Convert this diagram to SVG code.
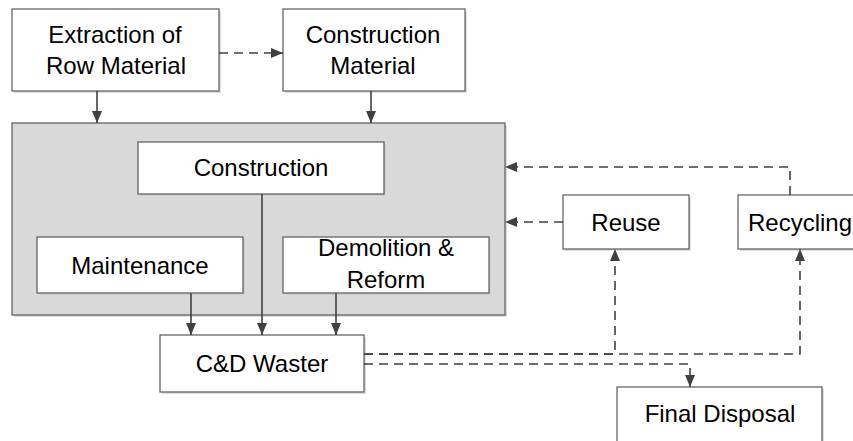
<svg xmlns="http://www.w3.org/2000/svg" width="853" height="441" viewBox="0 0 853 441">
<defs>
<style>
.box{fill:#ffffff;stroke:#595959;stroke-width:1.2}
.shadow{fill:#c8c8c8;opacity:0.6}
.group{fill:#d9d9d9;stroke:#595959;stroke-width:1.2}
.t{font-family:"Liberation Sans",Arial,sans-serif;font-size:24px;fill:#000000;text-anchor:middle}
.solid{fill:none;stroke:#404040;stroke-width:1.6}
.dash{fill:none;stroke:#404040;stroke-width:1.6;stroke-dasharray:9,6}
</style>
<marker id="ah" viewBox="0 0 12 10" refX="12" refY="5" markerWidth="12" markerHeight="10" markerUnits="userSpaceOnUse" orient="auto">
<path d="M0,0 L12,5 L0,10 Z" fill="#404040"/>
</marker>
</defs>
<rect width="853" height="441" fill="#ffffff"/>

<g id="lifecycle">
<rect class="shadow" x="14" y="125" width="493" height="192"/>
<rect class="group" x="12" y="123" width="493" height="192"/>
</g>

<g id="extraction">
<rect class="shadow" x="14" y="11" width="207" height="82"/>
<rect class="box" x="12" y="9" width="207" height="82"/>
<text class="t" x="115" y="43">Extraction of</text>
<text class="t" x="116" y="74">Row Material</text>
</g>

<g id="construction-material">
<rect class="shadow" x="285" y="11" width="182" height="82"/>
<rect class="box" x="283" y="9" width="182" height="82"/>
<text class="t" x="373" y="43">Construction</text>
<text class="t" x="373" y="74">Material</text>
</g>

<g id="construction">
<rect class="shadow" x="140" y="144" width="246" height="52"/>
<rect class="box" x="138" y="142" width="246" height="52"/>
<text class="t" x="261" y="176">Construction</text>
</g>

<g id="maintenance">
<rect class="shadow" x="39" y="239" width="206" height="56"/>
<rect class="box" x="37" y="237" width="206" height="56"/>
<text class="t" x="140" y="274">Maintenance</text>
</g>

<g id="demolition">
<rect class="shadow" x="285" y="239" width="206" height="56"/>
<rect class="box" x="283" y="237" width="206" height="56"/>
<text class="t" x="386" y="256">Demolition &amp;</text>
<text class="t" x="386" y="288">Reform</text>
</g>

<g id="cd-waste">
<rect class="shadow" x="162" y="337" width="204" height="57"/>
<rect class="box" x="160" y="335" width="204" height="57"/>
<text class="t" x="262" y="372">C&amp;D Waster</text>
</g>

<g id="reuse">
<rect class="shadow" x="565" y="197" width="126" height="54"/>
<rect class="box" x="563" y="195" width="126" height="54"/>
<text class="t" x="626" y="231">Reuse</text>
</g>

<g id="recycling">
<rect class="shadow" x="740" y="197" width="130" height="54"/>
<rect class="box" x="738" y="195" width="130" height="54"/>
<text class="t" x="800" y="231">Recycling</text>
</g>

<g id="final-disposal">
<rect class="shadow" x="619" y="389" width="205" height="70"/>
<rect class="box" x="617" y="387" width="205" height="70"/>
<text class="t" x="720" y="422">Final Disposal</text>
</g>

<g id="connectors">
<path class="dash" d="M219,53 H283" marker-end="url(#ah)"/>
<path class="solid" d="M97,91 V123" marker-end="url(#ah)"/>
<path class="solid" d="M371,91 V123" marker-end="url(#ah)"/>
<path class="dash" d="M790,195 V167 H505" marker-end="url(#ah)"/>
<path class="dash" d="M563,222 H505" marker-end="url(#ah)"/>
<path class="solid" d="M191,293 V335" marker-end="url(#ah)"/>
<path class="solid" d="M262,194 V335" marker-end="url(#ah)"/>
<path class="solid" d="M336,293 V335" marker-end="url(#ah)"/>
<path class="dash" d="M364,354 H615 V249" marker-end="url(#ah)"/>
<path class="dash" d="M364,354 H800 V249" marker-end="url(#ah)"/>
<path class="dash" d="M364,364 H690 V387" marker-end="url(#ah)"/>
</g>
</svg>
